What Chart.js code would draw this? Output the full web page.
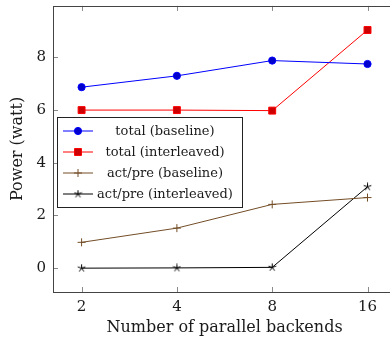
<!DOCTYPE html>
<html>
<head>
<meta charset="utf-8">
<script src="https://cdn.jsdelivr.net/npm/chart.js@4"></script>
<style>
  html, body { margin: 0; padding: 0; overflow: hidden; background: #fff; width: 390px; height: 342px; }
  #wrap { width: 390px; height: 342px; overflow: hidden; position: relative; }
  #powerChart { position: absolute; left: 0; top: 0; }
</style>
</head>
<body>
<div id="wrap"><canvas id="powerChart" width="402" height="342"></canvas></div>
<script>
// dados
const backends = [2, 4, 8, 16];
const totalBaseline = [6.87, 7.30, 7.88, 7.75];
const totalInterleaved = [6.0, 6.0, 5.98, 9.04];
const actpreBaseline = [0.98, 1.52, 2.42, 2.68];
const actpreInterleaved = [0.0, 0.01, 0.03, 3.09];
const yTicks = [0, 2, 4, 6, 8];

const FONT = '"DejaVu Serif", serif';
const TXT = '#1a1a1a';

const pts = (vals) => backends.map((b, i) => ({ x: b, y: vals[i] }));

// estrela de 5 pontas (marcador "star" do pgfplots)
function makeStar(size, color) {
    const c = document.createElement('canvas');
    c.width = size; c.height = size;
    const g = c.getContext('2d');
    const cx = size / 2, cy = size / 2, r = size / 2 - 0.5;
    g.strokeStyle = color;
    g.lineWidth = 1;
    g.beginPath();
    for (let k = 0; k < 5; k++) {
        const ang = -Math.PI / 2 + k * 2 * Math.PI / 5;
        g.moveTo(cx, cy);
        g.lineTo(cx + r * Math.cos(ang), cy + r * Math.sin(ang));
    }
    g.stroke();
    return c;
}
const starImg = makeStar(9, '#000');

// caixa, ticks internos e legenda no estilo pgfplots
const pgfBox = {
    id: 'pgfBox',
    afterDatasetsDraw(chart) {
        const ctx = chart.ctx;
        const a = chart.chartArea;
        const xs = chart.scales.x, ys = chart.scales.y;
        ctx.save();
        ctx.strokeStyle = '#8a8a8a';
        ctx.lineWidth = 1;
        ctx.beginPath();
        backends.forEach(v => {
            const px = Math.round(xs.getPixelForValue(v)) + 0.5;
            ctx.moveTo(px, a.bottom); ctx.lineTo(px, a.bottom - 5);
            ctx.moveTo(px, a.top); ctx.lineTo(px, a.top + 5);
        });
        yTicks.forEach(v => {
            const py = Math.round(ys.getPixelForValue(v)) + 0.5;
            ctx.moveTo(a.left, py); ctx.lineTo(a.left + 5, py);
            ctx.moveTo(a.right, py); ctx.lineTo(a.right - 5, py);
        });
        ctx.stroke();
        ctx.strokeStyle = '#444';
        ctx.strokeRect(Math.round(a.left) + 0.5, Math.round(a.top) + 0.5,
            Math.round(a.right - a.left), Math.round(a.bottom - a.top));

        // legenda
        const bx = 57.5, by = 117.5, bw = 185, bh = 90;
        ctx.fillStyle = '#fff';
        ctx.fillRect(bx, by, bw, bh);
        ctx.strokeStyle = '#222';
        ctx.strokeRect(bx, by, bw, bh);
        ctx.font = '13px ' + FONT;
        ctx.textAlign = 'center';
        ctx.textBaseline = 'middle';
        chart.data.datasets.forEach((ds, i) => {
            const y = 131 + i * 21;
            ctx.strokeStyle = ds.borderColor;
            ctx.lineWidth = 1;
            ctx.beginPath();
            ctx.moveTo(63, y); ctx.lineTo(93, y);
            ctx.stroke();
            ctx.fillStyle = ds.pointBackgroundColor;
            ctx.strokeStyle = ds.pointBorderColor;
            Chart.helpers.drawPoint(ctx, {
                pointStyle: ds.pointStyle,
                radius: ds.pointRadius,
                rotation: 0,
                borderWidth: 1
            }, 78, y);
            ctx.fillStyle = TXT;
            ctx.fillText(ds.label, 165, y + 1);
        });
        ctx.restore();
    }
};

const noPad = (s) => { s.paddingTop = 0; s.paddingBottom = 0; s.paddingLeft = 0; s.paddingRight = 0; };

new Chart(document.getElementById('powerChart'), {
    type: 'line',
    data: {
        datasets: [{
            label: 'total (baseline)',
            data: pts(totalBaseline),
            borderColor: '#0000ff',
            pointBackgroundColor: '#0000cc',
            pointBorderColor: '#0000ff',
            pointStyle: 'circle',
            pointRadius: 3.6,
            borderWidth: 1
        }, {
            label: 'total (interleaved)',
            data: pts(totalInterleaved),
            borderColor: '#ff0000',
            pointBackgroundColor: '#cc0000',
            pointBorderColor: '#ff0000',
            pointStyle: 'rect',
            pointRadius: 4.9,
            borderWidth: 1
        }, {
            label: 'act/pre (baseline)',
            data: pts(actpreBaseline),
            borderColor: '#734d26',
            pointBackgroundColor: '#734d26',
            pointBorderColor: '#734d26',
            pointStyle: 'cross',
            pointRadius: 4,
            borderWidth: 1
        }, {
            label: 'act/pre (interleaved)',
            data: pts(actpreInterleaved),
            borderColor: '#000000',
            pointBackgroundColor: '#000000',
            pointBorderColor: '#000000',
            pointStyle: starImg,
            pointRadius: 4,
            borderWidth: 1
        }]
    },
    options: {
        responsive: false,
        animation: false,
        layout: { padding: { left: 0, top: 4, right: 0, bottom: 0 } },
        scales: {
            x: {
                type: 'logarithmic',
                min: 1.6245,
                max: 19.698,
                grid: { display: false, drawTicks: false },
                border: { display: false },
                afterBuildTicks: (s) => { s.ticks = backends.map(v => ({ value: v })); },
                afterFit: (s) => { s.height = 50; noPad(s); },
                ticks: {
                    padding: 6,
                    color: TXT,
                    font: { family: FONT, size: 15 },
                    callback: (v) => String(v)
                },
                title: {
                    display: true,
                    text: 'Number of parallel backends',
                    color: TXT,
                    font: { family: FONT, size: 16 },
                    padding: { top: 0, bottom: 5 }
                }
            },
            y: {
                min: -0.905,
                max: 9.955,
                grid: { display: false, drawTicks: false },
                border: { display: false },
                afterBuildTicks: (s) => { s.ticks = yTicks.map(v => ({ value: v })); },
                afterFit: (s) => { s.width = 53; noPad(s); },
                ticks: {
                    padding: 7,
                    color: TXT,
                    font: { family: FONT, size: 15 }
                },
                title: {
                    display: true,
                    text: 'Power (watt)',
                    color: TXT,
                    font: { family: FONT, size: 16 },
                    padding: { top: 8, bottom: 0 }
                }
            }
        },
        plugins: {
            legend: { display: false },
            tooltip: { enabled: false }
        }
    },
    plugins: [pgfBox]
});
</script>
</body>
</html>
